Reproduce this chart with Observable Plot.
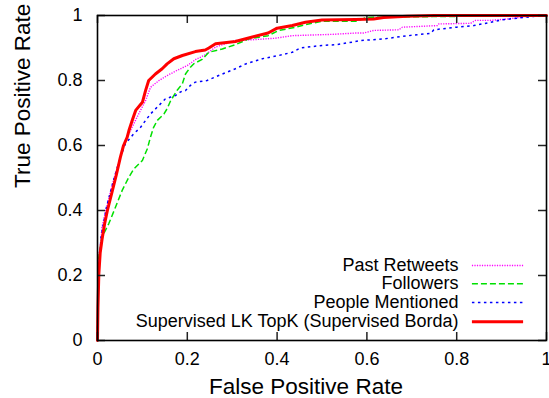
<!DOCTYPE html>
<html><head><meta charset="utf-8">
<script src="https://cdn.jsdelivr.net/npm/d3@7"></script>
<script src="https://cdn.jsdelivr.net/npm/@observablehq/plot@0.6"></script>
<style>body{margin:0;background:#fff}</style>
</head><body><div id="chart"></div>
<script>
// ---- data ----
const seriesNames = ["Past Retweets", "Followers", "People Mentioned", "Supervised LK TopK (Supervised Borda)"];

const pastFpr = [0,0.001,0.003,0.007,0.010,0.022,0.035,0.05,0.062,0.077,0.088,0.107,0.118,0.137,0.155,0.177,0.20,0.218,0.24,0.263,0.307,0.352,0.396,0.434,0.478,0.523,0.575,0.593,0.615,0.671,0.679,0.757,0.76,0.831,0.842,0.875,0.912,0.957,1];
const pastTpr = [0,0.18,0.26,0.30,0.349,0.42,0.49,0.56,0.615,0.656,0.687,0.738,0.779,0.80,0.815,0.831,0.846,0.864,0.879,0.903,0.923,0.926,0.93,0.938,0.94,0.942,0.946,0.946,0.954,0.956,0.964,0.969,0.974,0.976,0.985,0.985,0.989,0.997,1];

const follFpr = [0,0.001,0.003,0.010,0.025,0.040,0.055,0.070,0.081,0.10,0.111,0.118,0.125,0.133,0.148,0.155,0.163,0.177,0.189,0.196,0.207,0.214,0.233,0.248,0.278,0.307,0.337,0.38,0.404,0.441,0.47,0.50,0.575,0.60,0.70,1];
const follTpr = [0,0.15,0.256,0.318,0.359,0.41,0.462,0.503,0.528,0.554,0.59,0.626,0.656,0.677,0.697,0.713,0.738,0.769,0.79,0.82,0.841,0.851,0.865,0.887,0.897,0.91,0.928,0.938,0.954,0.964,0.974,0.982,0.982,0.994,0.996,1];

const peopFpr = [0,0.001,0.003,0.008,0.02,0.035,0.05,0.062,0.080,0.096,0.107,0.118,0.133,0.151,0.163,0.174,0.185,0.196,0.207,0.218,0.244,0.278,0.307,0.33,0.367,0.404,0.434,0.452,0.50,0.53,0.567,0.586,0.638,0.675,0.712,0.742,0.749,0.80,0.838,0.875,0.898,0.935,0.97,1];
const peopTpr = [0,0.12,0.22,0.32,0.41,0.49,0.56,0.605,0.635,0.656,0.677,0.697,0.718,0.743,0.749,0.754,0.765,0.769,0.785,0.795,0.80,0.82,0.836,0.851,0.867,0.877,0.887,0.90,0.908,0.91,0.918,0.923,0.928,0.935,0.941,0.945,0.956,0.964,0.969,0.979,0.986,0.992,0.997,1];

const supFpr = [0,0.001,0.003,0.006,0.010,0.016,0.022,0.033,0.042,0.051,0.058,0.066,0.070,0.078,0.085,0.10,0.107,0.114,0.129,0.144,0.155,0.170,0.189,0.218,0.240,0.248,0.263,0.307,0.345,0.38,0.40,0.434,0.463,0.50,0.575,0.615,0.637,0.69,0.75,1];
const supTpr = [0,0.10,0.205,0.27,0.31,0.36,0.40,0.46,0.51,0.564,0.60,0.625,0.646,0.68,0.708,0.733,0.769,0.80,0.82,0.836,0.851,0.867,0.877,0.889,0.894,0.90,0.913,0.92,0.934,0.946,0.961,0.969,0.979,0.986,0.988,0.989,0.994,0.998,1,1];

const tickValues = [0, 0.2, 0.4, 0.6, 0.8, 1];
const tickLabels = ["0", "0.2", "0.4", "0.6", "0.8", "1"];
const xTitle = "False Positive Rate";
const yTitle = "True Positive Rate";

// ---- build ----
const W = 549, H = 398, ML = 97, MR = 3, MT = 15, MB = 58;
const FW = W - ML - MR, FH = H - MT - MB, TICK = 8;

const toRows = (xs, ys) => xs.map((x, i) => ({x, y: ys[i]}));
const series = [
  {name: seriesNames[0], rows: toRows(pastFpr, pastTpr), stroke: "#ff00ff", width: 1.4, dash: "1.2,1.3"},
  {name: seriesNames[1], rows: toRows(follFpr, follTpr), stroke: "#00e000", width: 1.5, dash: "6,3"},
  {name: seriesNames[2], rows: toRows(peopFpr, peopTpr), stroke: "#0000ff", width: 1.5, dash: "2.5,3.5"},
  {name: seriesNames[3], rows: toRows(supFpr, supTpr), stroke: "#ff0000", width: 3, dash: null}
];
const fmt = d => tickLabels[tickValues.indexOf(d)];
const font = "'Liberation Sans', Arial, Helvetica, sans-serif";

// legend rows placed inside the frame (in data units)
const legendY = [0.231, 0.175, 0.117, 0.058];
const legendTextX = 0.804, legendX1 = 0.835, legendX2 = 0.949;

const marks = [];
for (const s of series) {
  marks.push(Plot.line(s.rows, {x: "x", y: "y", stroke: s.stroke, strokeWidth: s.width,
    strokeDasharray: s.dash, strokeLinejoin: "round", strokeLinecap: s.dash ? "butt" : "round"}));
}
series.forEach((s, i) => {
  marks.push(Plot.text([s.name], {x: legendTextX, y: legendY[i], text: d => d, textAnchor: "end",
    fontSize: 18, fill: "black"}));
  marks.push(Plot.ruleY([legendY[i]], {x1: legendX1, x2: legendX2, stroke: s.stroke,
    strokeWidth: s.width, strokeDasharray: s.dash}));
});

const tk = {stroke: "#222", strokeWidth: 1.5};

const chart = Plot.plot({
  width: W, height: H,
  marginLeft: ML, marginRight: MR, marginTop: MT, marginBottom: MB,
  style: {fontFamily: font, background: "white", color: "black", overflow: "visible"},
  x: {domain: [0, 1]},
  y: {domain: [0, 1]},
  marks: [
    ...marks,
    Plot.axisX(tickValues, {anchor: "bottom", tickSize: 0, tickPadding: 12, fontSize: 18, tickFormat: fmt, label: null}),
    Plot.axisY(tickValues, {anchor: "left", tickSize: 0, tickPadding: 15, fontSize: 18, tickFormat: fmt, label: null}),
    // inward ticks on all four sides (gnuplot style)
    Plot.ruleX(tickValues, {x: d => d, insetTop: FH - TICK, ...tk}),
    Plot.ruleX(tickValues, {x: d => d, insetBottom: FH - TICK, ...tk}),
    Plot.ruleY(tickValues, {y: d => d, insetRight: FW - TICK, ...tk}),
    Plot.ruleY(tickValues, {y: d => d, insetLeft: FW - TICK, ...tk}),
    Plot.frame({stroke: "black", strokeWidth: 1.6}),
    Plot.text([xTitle], {frameAnchor: "bottom", dx: -16, dy: 46, text: d => d, fontSize: 22.5, fill: "black", lineAnchor: "middle"}),
    Plot.text([yTitle], {frameAnchor: "left", dx: -75, dy: 10, rotate: -90, text: d => d, fontSize: 22.5, fill: "black"})
  ]
});
document.getElementById("chart").appendChild(chart);
</script>
</body></html>
